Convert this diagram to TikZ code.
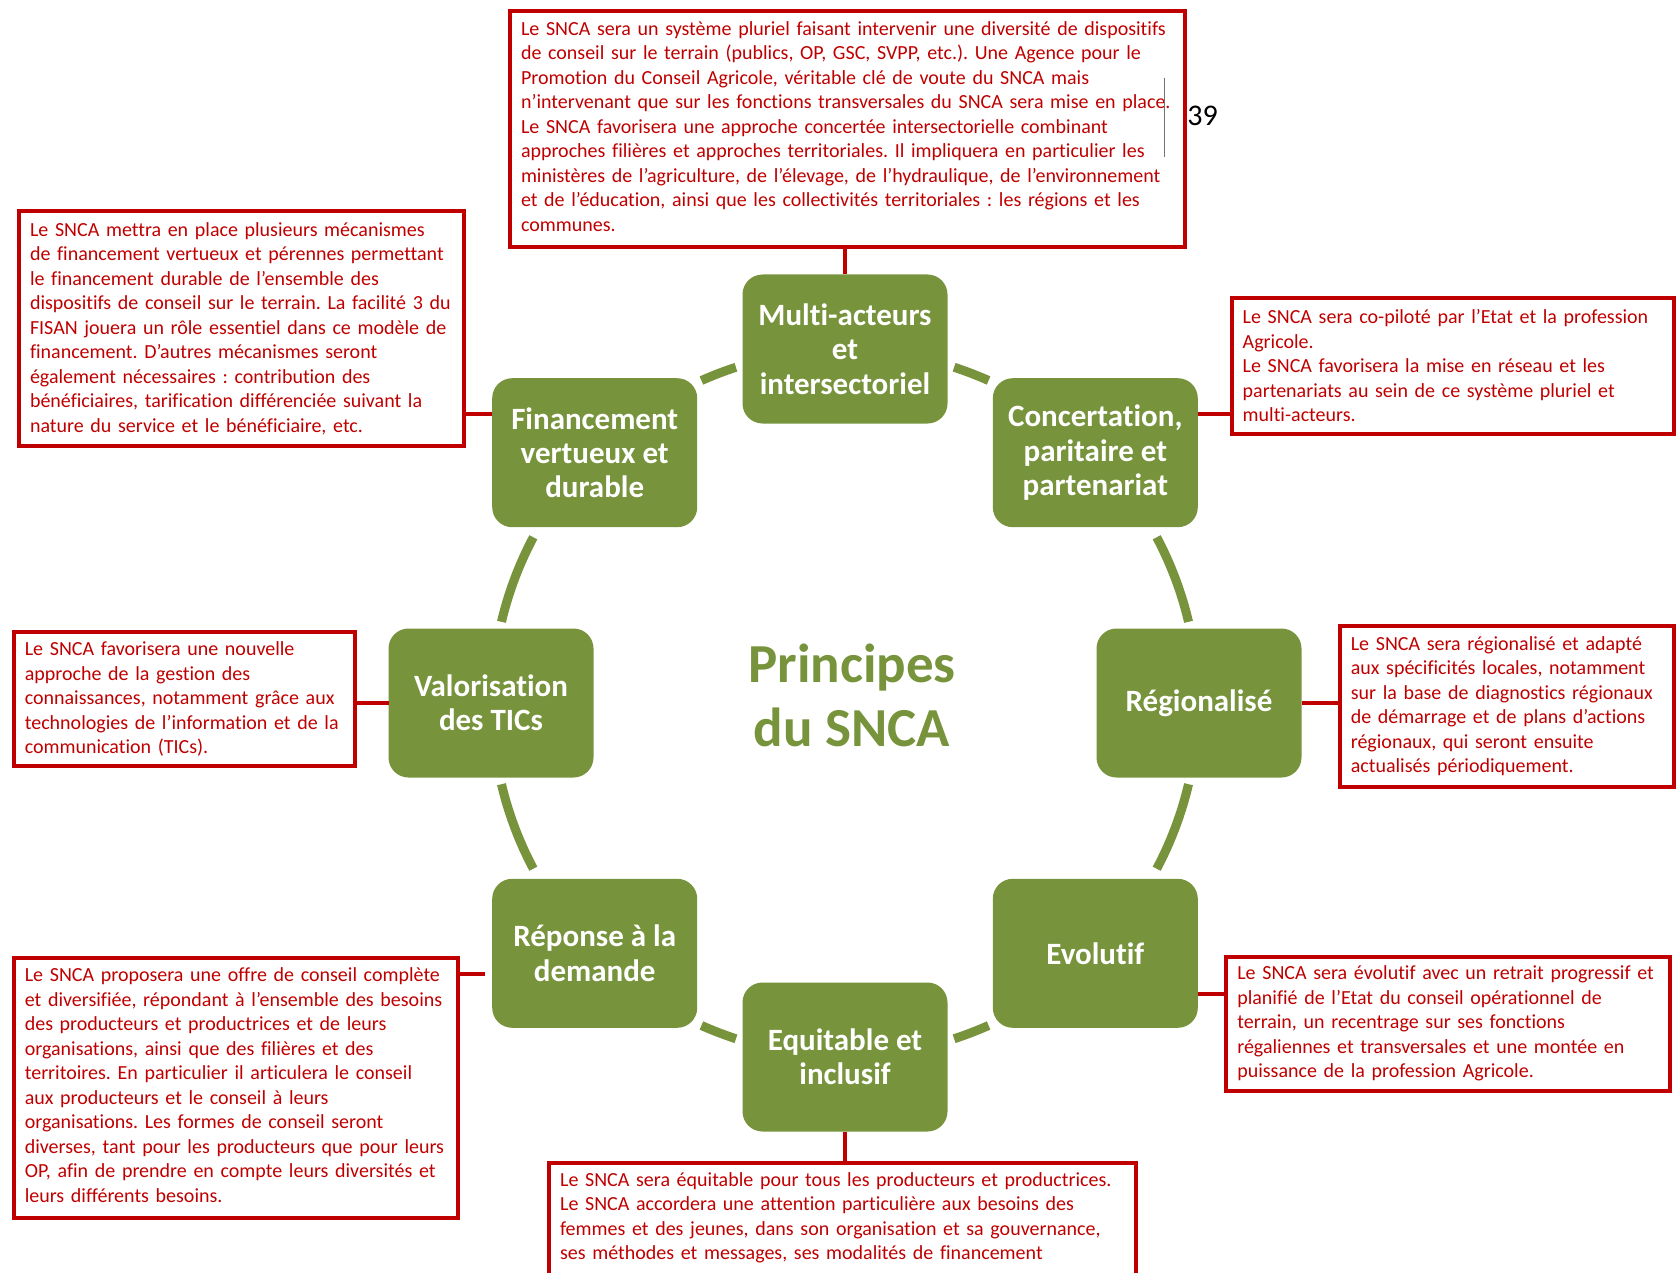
\documentclass[tikz,border=0pt]{standalone}
\usepackage{fontspec}
\setmainfont[Ligatures=NoCommon]{Carlito}
\usetikzlibrary{calc}
\definecolor{olivegreen}{RGB}{119,147,60}
\definecolor{darkred}{RGB}{192,0,0}
\frenchspacing
\newcommand{\lowpad}{\rule[-6pt]{0pt}{6pt}}
\begin{document}
\begin{tikzpicture}[x=1pt,y=-1pt,
  redbox/.style={draw=darkred, line width=4pt, fill=white, outer sep=0pt,
    inner xsep=11pt, inner ysep=0pt, align=left, text=darkred,
    font=\fontsize{20}{24.5}\selectfont, anchor=north west},
  redframe/.style={draw=darkred, line width=4pt, fill=white, outer sep=0pt,
    inner sep=0pt, anchor=north west},
  redtext/.style={inner sep=0pt, align=left, text=darkred,
    font=\fontsize{20}{24.5}\selectfont, anchor=north west},
  principle/.style={fill=olivegreen, rounded corners=20pt, minimum width=205pt,
    minimum height=149pt, text=white, align=center, outer sep=0pt, inner sep=2pt,
    font=\bfseries\fontsize{31}{34.4}\selectfont},
  ring/.style={draw=olivegreen, line width=9pt},
  link/.style={draw=darkred, line width=4pt}]

\useasboundingbox (0,0) rectangle (1678,1273);
\clip (0,0) rectangle (1678,1273);

\coordinate (ctr) at (845,703);

% ring arcs
\foreach \a/\b in {13.3/28, 66/72, 108/114, 152/166.7, 193.3/208, 246/252, 288/294, 332/346.7}
  \draw[ring] ([shift={(\a:353)}]ctr) arc[start angle=\a, end angle=\b, radius=353];

% principle boxes
\node[principle] (multi) at (845,349) {Multi-acteurs\\et\\intersectoriel};
\node[principle] (conc) at (1095.3,452.7) {Concertation,\\paritaire et\\partenariat};
\node[principle] (reg) at (1199,703) {Régionalisé};
\node[principle] (evo) at (1095.3,953.3) {Evolutif};
\node[principle] (equ) at (845,1057) {Equitable et\\inclusif};
\node[principle] (rep) at (594.7,953.3) {Réponse à la\\demande};
\node[principle] (val) at (491,703) {Valorisation\\des TICs};
\node[principle] (fin) at (594.7,452.7) {Financement\\vertueux et\\durable};

% title
\node[inner sep=0pt, align=center, text=olivegreen,
  font=\bfseries\fontsize{55}{64}\selectfont] (title) at (852,695) {Principes\\du SNCA};

% red boxes
\node[redbox, minimum width=675pt, minimum height=236pt, text width=653pt] (topbox) at (510,11.5)
{Le SNCA sera un système pluriel faisant intervenir une diversité de dispositifs\\
de conseil sur le terrain (publics, OP, GSC, SVPP, etc.). Une Agence pour le\\
Promotion du Conseil Agricole, véritable clé de voute du SNCA mais\\
n’intervenant que sur les fonctions transversales du SNCA sera mise en place.\\
Le SNCA favorisera une approche concertée intersectorielle combinant\\
approches filières et approches territoriales. Il impliquera en particulier les\\
ministères de l’agriculture, de l’élevage, de l’hydraulique, de l’environnement\\
et de l’éducation, ainsi que les collectivités territoriales : les régions et les\\
communes.\lowpad};

\node[redbox, minimum width=444.5pt, minimum height=235.7pt, text width=422.5pt] (finbox) at (19,210.7)
{Le SNCA mettra en place plusieurs mécanismes\\
de financement vertueux et pérennes permettant\\
le financement durable de l’ensemble des\\
dispositifs de conseil sur le terrain. La facilité 3 du\\
FISAN jouera un rôle essentiel dans ce modèle de\\
financement. D’autres mécanismes seront\\
également nécessaires : contribution des\\
bénéficiaires, tarification différenciée suivant la\\
nature du service et le bénéficiaire, etc.};

\node[redbox, minimum width=442.3pt, minimum height=135.2pt, text width=420.3pt] (concbox) at (1231.7,298.4)
{Le SNCA sera co-piloté par l’Etat et la profession\\
Agricole.\\
Le SNCA favorisera la mise en réseau et les\\
partenariats au sein de ce système pluriel et\\
multi-acteurs.};

\node[redbox, minimum width=341.6pt, minimum height=134.1pt, text width=319.6pt] (valbox) at (13.8,632.3)
{Le SNCA favorisera une nouvelle\\
approche de la gestion des\\
connaissances, notamment grâce aux\\
technologies de l’information et de la\\
communication (TICs).};

\node[redbox, minimum width=334.2pt, minimum height=160.7pt, text width=312.2pt] (regbox) at (1339.8,626)
{Le SNCA sera régionalisé et adapté\\
aux spécificités locales, notamment\\
sur la base de diagnostics régionaux\\
de démarrage et de plans d’actions\\
régionaux, qui seront ensuite\\
actualisés périodiquement.};

\node[redbox, minimum width=444.4pt, minimum height=260.3pt, text width=422.4pt] (repbox) at (13.8,957.7)
{Le SNCA proposera une offre de conseil complète\\
et diversifiée, répondant à l’ensemble des besoins\\
des producteurs et productrices et de leurs\\
organisations, ainsi que des filières et des\\
territoires. En particulier il articulera le conseil\\
aux producteurs et le conseil à leurs\\
organisations. Les formes de conseil seront\\
diverses, tant pour les producteurs que pour leurs\\
OP, afin de prendre en compte leurs diversités et\\
leurs différents besoins.\lowpad};

\node[redbox, minimum width=443.3pt, minimum height=134.1pt, text width=421.3pt] (evobox) at (1226.3,956.6)
{Le SNCA sera évolutif avec un retrait progressif et\\
planifié de l’Etat du conseil opérationnel de\\
terrain, un recentrage sur ses fonctions\\
régaliennes et transversales et une montée en\\
puissance de la profession Agricole.};

\node[redframe, minimum width=586.7pt, minimum height=150pt] (equbox) at (548.9,1163.2) {};
\node[redtext, text width=564pt] (equtext) at ([xshift=11pt,yshift=-9pt]equbox.north west)
{Le SNCA sera équitable pour tous les producteurs et productrices.\\
Le SNCA accordera une attention particulière aux besoins des\\
femmes et des jeunes, dans son organisation et sa gouvernance,\\
ses méthodes et messages, ses modalités de financement};

% page number and marker
\node[inner sep=0pt, font=\fontsize{30}{36}\selectfont] (pagenum) at (1202.5,115.5) {39};
\draw[black!55, line width=1.5pt] (1164.7,77.7) -- (1164.7,157);

% connectors
\draw[link] (multi.north) -- (multi.north |- topbox.south);
\coordinate (finc) at ($(fin.north west)!0.24!(fin.south west)$);
\draw[link] (finc) -- (finc -| finbox.east);
\coordinate (concc) at ($(conc.north east)!0.24!(conc.south east)$);
\draw[link] (concc) -- (concc -| concbox.west);
\draw[link] (val.west) -- (val.west -| valbox.east);
\draw[link] (reg.east) -- (reg.east -| regbox.west);
\coordinate (repc) at ($(rep.north west)!0.64!(rep.south west)$);
\draw[link, shorten <=7pt] (repc) -- (repc -| repbox.east);
\coordinate (evoc) at ($(evo.north east)!0.77!(evo.south east)$);
\draw[link] (evoc) -- (evoc -| evobox.west);
\draw[link] (equ.south) -- (equ.south |- equbox.north);
\end{tikzpicture}
\end{document}
